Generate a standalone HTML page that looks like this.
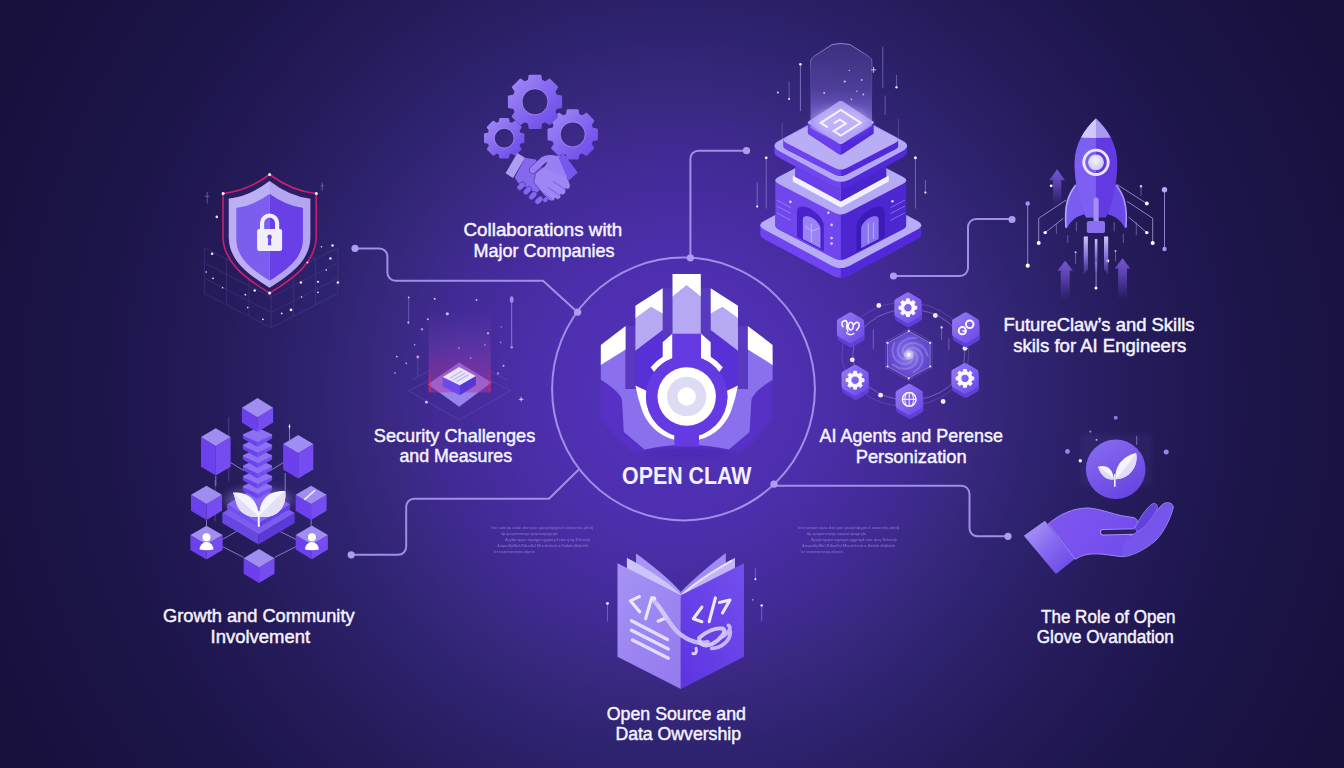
<!DOCTYPE html>
<html><head><meta charset="utf-8"><title>Open Claw</title>
<style>
html,body{margin:0;padding:0;background:#18113e;}
body{width:1344px;height:768px;overflow:hidden;font-family:"Liberation Sans",sans-serif;}
svg{display:block}
.lbl{font-family:"Liberation Sans",sans-serif;font-size:17.8px;fill:#f5f3ff;stroke:#f5f3ff;stroke-width:.45px;paint-order:stroke;}
.ttl{font-family:"Liberation Sans",sans-serif;font-size:24px;font-weight:700;fill:#f3f0ff;}
.ln{fill:none;stroke:#a08ee9;stroke-width:2;stroke-linecap:round;stroke-linejoin:round}
.nd{fill:#ad9cf0}
.wf{fill:none;stroke:#6a5bb8;stroke-width:.8;opacity:.3}
.sp{fill:#fff}
</style></head><body>
<svg width="1344" height="768" viewBox="0 0 1344 768">
<defs>
<radialGradient id="bg" gradientUnits="userSpaceOnUse" cx="676" cy="392" r="800">
<stop offset="0" stop-color="#5333ba"/>
<stop offset=".15" stop-color="#4e2fb0"/>
<stop offset=".30" stop-color="#412a94"/>
<stop offset=".37" stop-color="#39287f"/>
<stop offset=".45" stop-color="#2e2370"/>
<stop offset=".58" stop-color="#251b5a"/>
<stop offset=".72" stop-color="#1c154a"/>
<stop offset=".9" stop-color="#18113f"/>
<stop offset="1" stop-color="#18113e"/>
</radialGradient>
<filter id="b1" x="-20%" y="-20%" width="140%" height="140%"><feGaussianBlur stdDeviation="1"/></filter>
<filter id="b2" x="-20%" y="-20%" width="140%" height="140%"><feGaussianBlur stdDeviation="2"/></filter>
<filter id="b4" x="-30%" y="-30%" width="160%" height="160%"><feGaussianBlur stdDeviation="4"/></filter>
<filter id="b8" x="-50%" y="-50%" width="200%" height="200%"><feGaussianBlur stdDeviation="8"/></filter>
<radialGradient id="gal" cx=".5" cy=".5" r=".55"><stop offset="0" stop-color="#cfc4fb"/><stop offset=".2" stop-color="#8a74e4"/><stop offset=".6" stop-color="#6a50d4"/><stop offset="1" stop-color="#5c44c6"/></radialGradient>
<linearGradient id="nodeg" x1="0" y1="0" x2="1" y2="1"><stop offset="0" stop-color="#9178f3"/><stop offset="1" stop-color="#6d4ce8"/></linearGradient>
<linearGradient id="bkL" x1="0" y1="0" x2=".6" y2="1"><stop offset="0" stop-color="#a793f5"/><stop offset="1" stop-color="#957df0"/></linearGradient>
<linearGradient id="bkR" x1="1" y1="0" x2=".2" y2="1"><stop offset="0" stop-color="#7350ee"/><stop offset="1" stop-color="#5f35e3"/></linearGradient>
<linearGradient id="holo" x1="0" y1="0" x2="0" y2="1">
<stop offset="0" stop-color="#8f7ce0" stop-opacity=".16"/>
<stop offset=".45" stop-color="#8a72e8" stop-opacity=".32"/>
<stop offset=".8" stop-color="#9d86f6" stop-opacity=".7"/>
<stop offset="1" stop-color="#b4a2fa" stop-opacity=".85"/>
</linearGradient>
<linearGradient id="holos" x1="0" y1="0" x2="0" y2="1">
<stop offset="0" stop-color="#b0a0ee" stop-opacity=".75"/>
<stop offset=".5" stop-color="#b0a0ee" stop-opacity=".15"/>
<stop offset="1" stop-color="#b0a0ee" stop-opacity="0"/>
</linearGradient>
<linearGradient id="colg" x1="0" y1="0" x2="0" y2="1">
<stop offset="0" stop-color="#7a4ab8" stop-opacity="0"/>
<stop offset=".35" stop-color="#7a44b4" stop-opacity=".28"/>
<stop offset=".7" stop-color="#9a3aa8" stop-opacity=".5"/>
<stop offset="1" stop-color="#a83aa4" stop-opacity=".5"/>
</linearGradient>
<linearGradient id="cole" x1="0" y1="0" x2="0" y2="1">
<stop offset="0" stop-color="#d81f5c" stop-opacity="0"/>
<stop offset="1" stop-color="#e0205a" stop-opacity=".75"/>
</linearGradient>
<linearGradient id="gearg" x1="0" y1="0" x2="1" y2="1">
<stop offset="0" stop-color="#a48df6"/><stop offset=".5" stop-color="#8567f1"/><stop offset="1" stop-color="#6846e6"/>
</linearGradient>
<linearGradient id="cuff" x1="0" y1="0" x2="1" y2="1"><stop offset="0" stop-color="#b0a0f6"/><stop offset=".5" stop-color="#8468f0"/><stop offset="1" stop-color="#6644e4"/></linearGradient>
<linearGradient id="glb" x1="0" y1="0" x2=".6" y2="1"><stop offset="0" stop-color="#8a6ef2"/><stop offset="1" stop-color="#6846e2"/></linearGradient>
<linearGradient id="hnd" x1="0" y1="0" x2="1" y2=".4"><stop offset="0" stop-color="#7f58f1"/><stop offset="1" stop-color="#7049ec"/></linearGradient>
<linearGradient id="arr" x1="0" y1="0" x2="0" y2="1">
<stop offset="0" stop-color="#7a5cd8" stop-opacity=".95"/><stop offset=".45" stop-color="#6a4cc8" stop-opacity=".7"/><stop offset="1" stop-color="#5a3cb8" stop-opacity="0"/>
</linearGradient>
<linearGradient id="flm" x1="0" y1="0" x2="0" y2="1">
<stop offset="0" stop-color="#cfc4fb"/><stop offset=".5" stop-color="#9a84f0" stop-opacity=".85"/><stop offset="1" stop-color="#7a5ce0" stop-opacity=".25"/>
</linearGradient>
<radialGradient id="win" cx=".45" cy=".4" r=".6"><stop offset="0" stop-color="#f4f2fc"/><stop offset="1" stop-color="#cfc9ee"/></radialGradient>

</defs>
<rect width="1344" height="768" fill="url(#bg)"/>

<g id="connectors">
<circle cx="683.5" cy="389" r="131.4" fill="none" stroke="#a08ee9" stroke-width="2"/>
<path class="ln" d="M355 248.4H379.4a8 8 0 0 1 8 8V272.7a8 8 0 0 0 8 8H543L577.6 312.2"/>
<path class="ln" d="M351.2 554.8H398.2a8 8 0 0 0 8 -8V506.7a8 8 0 0 1 8 -8H549L578.3 470"/>
<path class="ln" d="M690.4 257.8V158.7a8 8 0 0 1 8 -8H746.5"/>
<path class="ln" d="M893.5 276H960a8 8 0 0 0 8 -8V227a8 8 0 0 1 8 -8H1012"/>
<path class="ln" d="M774 485.8H961.5a8 8 0 0 1 8 8V528.3a8 8 0 0 0 8 8H1008"/>
<circle class="nd" cx="355" cy="248.4" r="3.6"/>
<circle class="nd" cx="577.6" cy="312.2" r="3.6"/>
<circle class="nd" cx="351.2" cy="554.8" r="3.6"/>
<circle class="nd" cx="690.4" cy="257.8" r="3.6"/>
<circle class="nd" cx="746.5" cy="150.7" r="3.6"/>
<circle class="nd" cx="893.5" cy="276" r="3.6"/>
<circle class="nd" cx="1012" cy="219.5" r="3.6"/>
<circle class="nd" cx="774" cy="484.2" r="3.6"/>
<circle class="nd" cx="1008" cy="536.3" r="3.6"/>
</g>
<g id="logo">
<polygon points="600.8 379.7 600.8 418.0 624.0 446.0 644.5 457.0 728.9 457.0 749.4 446.0 772.6 418.0 772.6 379.7" fill="#5a33cc" opacity=".75" filter="url(#b2)"/>
<ellipse cx="686.7" cy="453" rx="46" ry="5.5" fill="#4426a6" opacity=".55" filter="url(#b2)"/>
<path d="M600.8 360 L625.6 345 L747.8 345 L772.6 360 L772.6 379.7 Q753 392 751.4 400 L749.6 432 L728.9 449.6 Q686.7 440 644.5 449.6 L623.8 432 L622 400 Q620.4 392 600.8 379.7 Z" fill="#8b70ee"/>
<rect x="625.6" y="320" width="122.2" height="69" fill="#4f30b3"/>
<rect x="625.6" y="326.0" width="9.8" height="62.9" fill="#5939bf"/>
<rect x="738.0" y="326.0" width="9.8" height="62.9" fill="#5939bf"/>
<rect x="662.7" y="288.2" width="9.8" height="56.8" fill="#5939bf"/>
<rect x="700.9" y="288.2" width="9.8" height="56.8" fill="#5939bf"/>
<polygon points="600.8 344.9 625.6 326.0 625.6 349.4 600.8 365.0" fill="#ffffff"/>
<polygon points="772.6 344.9 747.8 326.0 747.8 349.4 772.6 365.0" fill="#ffffff"/>
<polygon points="635.4 350.7 662.7 329.9 662.7 393.0 646.5 390.8 635.4 385.6" fill="#5731d6"/>
<polygon points="635.4 317.5 651.0 307.1 662.7 313.0 662.7 329.9 635.4 350.7" fill="#b6a8f2"/>
<polygon points="635.4 305.8 662.7 288.2 662.7 313.4 651.0 307.1 635.4 317.9" fill="#ffffff"/>
<polygon points="738.0 350.7 710.7 329.9 710.7 393.0 726.9 390.8 738.0 385.6" fill="#5731d6"/>
<polygon points="738.0 317.5 722.4 307.1 710.7 313.0 710.7 329.9 738.0 350.7" fill="#b6a8f2"/>
<polygon points="738.0 305.8 710.7 288.2 710.7 313.4 722.4 307.1 738.0 317.9" fill="#ffffff"/>
<path d="M672.5 333.6 L662.7 342.3 L662.7 356.8 A46.4 46.4 0 0 0 650.6 367.3 L654.1 371.9 A40.8 40.8 0 0 1 672.5 358.2 Z" fill="#ffffff"/>
<path d="M635.4 385.6 Q637.5 397.0 641.0 407.1 A46.4 46.4 0 0 0 674.4 439.7 L674.4 435.4 A40.8 40.8 0 0 1 646.3 390.8 Z" fill="#ffffff"/>
<path d="M700.9 333.6 L710.7 342.3 L710.7 356.8 A46.4 46.4 0 0 1 722.8 367.3 L719.3 371.9 A40.8 40.8 0 0 0 700.9 358.2 Z" fill="#ffffff"/>
<path d="M738.0 385.6 Q735.9 397.0 732.4 407.1 A46.4 46.4 0 0 1 699.0 439.7 L699.0 435.4 A40.8 40.8 0 0 0 727.1 390.8 Z" fill="#ffffff"/>
<rect x="672.5" y="333.8" width="28.3" height="40" fill="#653ae3"/>
<circle cx="686.7" cy="396.5" r="40.8" fill="#653ae3"/>
<rect x="674.4" y="430" width="24.6" height="16.5" fill="#653ae3"/>
<polygon points="672.5 273.9 700.8 273.9 700.8 296.9 686.6 285.4 672.5 296.9" fill="#ffffff"/>
<polygon points="672.5 296.7 686.6 285.2 700.8 296.7 700.8 333.8 672.5 333.8" fill="#b6a8f2"/>
<circle cx="686.7" cy="396.5" r="29.2" fill="#fff"/>
<circle cx="686.7" cy="396.5" r="19.7" fill="#dedbf5"/>
<circle cx="686.7" cy="396.5" r="9.2" fill="#fff"/>
</g>
<g id="tinytext" fill="#8876cc" opacity=".8" font-family="Liberation Sans, sans-serif" font-size="4.3" font-weight="700">
<text x="491.5" y="528.6" textLength="101.5" lengthAdjust="spacingAndGlyphs">Imt samaa coac dzz qon quoynlpypn.k owwvnlc plndj</text>
<text x="501.0" y="534.6" textLength="57.0" lengthAdjust="spacingAndGlyphs">dp qunparvmnqo vpqnouqnqqrqlo</text>
<text x="505.0" y="540.6" textLength="85.0" lengthAdjust="spacingAndGlyphs">Ayytjnrqqvn ognqpn qggntyd ewe qnq Jlvbasly</text>
<text x="497.0" y="546.6" textLength="91.0" lengthAdjust="spacingAndGlyphs">AnqanflylBel-KibadlsI MtsnfsIanb a-lbidah dlabdah</text>
<text x="493.0" y="552.6" textLength="42.0" lengthAdjust="spacingAndGlyphs">'or osarearveaa alusts</text>
<text x="798.0" y="528.6" textLength="101.0" lengthAdjust="spacingAndGlyphs">Imt samaa coac dzz qon quoynlpypn.k owwvnlc plndj</text>
<text x="807.0" y="534.6" textLength="59.0" lengthAdjust="spacingAndGlyphs">dp qunparvmnqo vpqnouqnqqrqlo</text>
<text x="811.0" y="540.6" textLength="86.0" lengthAdjust="spacingAndGlyphs">Ayytjnrqqvn ognqpn qggntyd ewe qnq Jlvbasly</text>
<text x="802.0" y="546.6" textLength="93.0" lengthAdjust="spacingAndGlyphs">AnqanflylBel-KibadlsI MtsnfsIanb a-lbidah dlabdah</text>
<text x="800.0" y="552.6" textLength="43.0" lengthAdjust="spacingAndGlyphs">'or osarearveaa alusts</text>
</g>
<g id="shield">
<g class="wf">
<path d="M204.4 247.8 L271.1 281.9 L337.9 247.8 M204.4 247.8 L204.4 293.5 L271.1 327.6 L337.9 293.5"/>
<path d="M337.9 247.8 L337.9 293.5 M271.1 281.9 L271.1 327.6"/>
<path d="M226.6 259.2 L226.6 304.9 M293.4 270.5 L293.4 316.2"/>
<path d="M204.4 263.0 L271.1 297.1 L337.9 263.0"/>
<path d="M226.6 259.2 L293.4 225.1 M293.4 270.5 L226.6 236.4"/>
<path d="M248.9 270.5 L248.9 316.2 M315.6 259.2 L315.6 304.9"/>
<path d="M204.4 278.3 L271.1 312.4 L337.9 278.3"/>
<path d="M248.9 270.5 L315.6 236.4 M315.6 259.2 L248.9 225.1"/>
</g>
<path d="M269.6 174.5 Q246.8 191.3 223.0 193.5 L223.0 237.0 C223.5 262.2 244.9 278.0 269.6 293.1 C294.3 278.0 315.7 262.2 316.2 237.0 L316.2 193.5 Q292.4 191.3 269.6 174.5 Z" fill="#2a1d63" stroke="#c9206e" stroke-width="1.6" stroke-linejoin="round"/>
<path d="M269.6 181.1 Q249.6 196.5 228.8 198.7 L228.8 238.0 C229.3 260.4 248.0 274.3 269.6 287.7 C291.2 274.3 309.9 260.4 310.4 238.0 L310.4 198.7 Q289.6 196.5 269.6 181.1 Z" fill="#b3a5f0"/>
<path d="M269.6 194.0 Q253.3 205.8 236.4 208.0 L236.4 240.0 C236.9 258.3 252.0 269.6 269.6 280.6 C287.2 269.6 302.3 258.3 302.8 240.0 L302.8 208.0 Q285.9 205.8 269.6 194.0 Z" fill="#7b5df0"/>
<clipPath id="shR"><rect x="269.6" y="170" width="60" height="130"/></clipPath>
<path d="M269.6 194.0 Q253.3 205.8 236.4 208.0 L236.4 240.0 C236.9 258.3 252.0 269.6 269.6 280.6 C287.2 269.6 302.3 258.3 302.8 240.0 L302.8 208.0 Q285.9 205.8 269.6 194.0 Z" fill="#693fe8" clip-path="url(#shR)"/>
<clipPath id="shL"><rect x="200" y="170" width="69.6" height="130"/></clipPath>
<path d="M269.6 181.1 Q249.6 196.5 228.8 198.7 L228.8 238.0 C229.3 260.4 248.0 274.3 269.6 287.7 C291.2 274.3 309.9 260.4 310.4 238.0 L310.4 198.7 Q289.6 196.5 269.6 181.1 Z" fill="#c4b8f5" clip-path="url(#shL)" opacity=".55"/>
<path d="M269.6 194.0 Q253.3 205.8 236.4 208.0 L236.4 240.0 C236.9 258.3 252.0 269.6 269.6 280.6 C287.2 269.6 302.3 258.3 302.8 240.0 L302.8 208.0 Q285.9 205.8 269.6 194.0 Z" fill="#7b5df0" clip-path="url(#shL)"/>
<path d="M262.1 230 V223 a7.5 7.5 0 0 1 15 0 V230" fill="none" stroke="#f1effc" stroke-width="4.2"/>
<rect x="257.1" y="229.1" width="25" height="21.8" rx="2.2" fill="#f1effc"/>
<circle cx="269.6" cy="236.9" r="2.3" fill="#6a48e6"/><path d="M268.4 237 L267.9 245.3 H271.3 L270.8 237Z" fill="#6a48e6"/>
<circle cx="269.6" cy="174.5" r="1.5" fill="#fff"/>
<circle cx="223.1" cy="193.5" r="1.5" fill="#fff"/>
<circle cx="316.3" cy="193.5" r="1.5" fill="#fff"/>
<circle cx="269.6" cy="293.1" r="1.5" fill="#fff"/>
<circle class="sp" cx="216.8" cy="216.9" r="1.3" opacity=".9"/>
<circle class="sp" cx="212.1" cy="253.7" r="1.3" opacity=".9"/>
<circle class="sp" cx="254.7" cy="290.5" r="1.2" opacity=".9"/>
<circle class="sp" cx="291.0" cy="309.9" r="1.4" opacity=".9"/>
<circle class="sp" cx="300.9" cy="282.5" r="1.2" opacity=".9"/>
<circle class="sp" cx="318.0" cy="281.8" r="1.1" opacity=".9"/>
<circle class="sp" cx="332.5" cy="245.5" r="1.3" opacity=".9"/>
<circle class="sp" cx="330.4" cy="258.4" r="1.2" opacity=".9"/>
<circle class="sp" cx="337.9" cy="282.5" r="1.3" opacity=".9"/>
<circle class="sp" cx="307.4" cy="262.4" r="1.0" opacity=".9"/>
<circle class="sp" cx="262.9" cy="319.3" r="0.9" opacity=".9"/>
<circle class="sp" cx="245.4" cy="294.7" r="0.9" opacity=".9"/>
<circle class="sp" cx="213.0" cy="278.3" r="0.9" opacity=".9"/>
<circle class="sp" cx="281.7" cy="313.4" r="0.9" opacity=".9"/>
<circle class="sp" cx="206.2" cy="272.0" r="0.8" opacity=".9"/>
<circle class="sp" cx="318.0" cy="292.3" r="0.9" opacity=".9"/>
<circle class="sp" cx="222.6" cy="287.7" r="0.8" opacity=".9"/>
<circle class="sp" cx="326.2" cy="270.1" r="0.8" opacity=".9"/>
<circle class="sp" cx="301.6" cy="297.0" r="0.8" opacity=".9"/>
<circle class="sp" cx="247.7" cy="307.6" r="0.8" opacity=".9"/>
<circle class="sp" cx="321.5" cy="246.7" r="0.8" opacity=".9"/>
<path d="M322.2 182.6 V190.9 M320.6 185.8 H323.8" stroke="#d9d2fa" stroke-width=".6" opacity=".55"/>
<path d="M207.2 191.8 V203.5 M204.9 196.3 H209.4" stroke="#d9d2fa" stroke-width=".6" opacity=".55"/>
</g>
<g id="chip">
<path class="wf" style="opacity:.5" d="M408.7 390.7 L459.2 419.9 L510.7 390.7"/>
<path class="wf" style="opacity:.5" d="M412.3 379.8 L429.6 370.7 M507.1 379.8 L489.8 370.7"/>
<path class="wf" style="opacity:.5" d="M408.7 390.7 L428.7 380.7 M510.7 390.7 L490.7 380.7"/>
<polygon points="459.2 362.5 491.6 382.5 459.2 406.8 427.8 384.3" fill="#9d89f1" opacity=".95"/>
<rect x="428.7" y="310.5" width="62.0" height="82.0" fill="url(#colg)"/>
<rect x="428.7" y="366.1" width="2.2" height="25.5" fill="url(#cole)"/>
<rect x="488.5" y="366.1" width="2.2" height="25.5" fill="url(#cole)"/>
<polygon points="442.8 377.1 459.7 385.3 459.7 395.3 442.8 386.2" fill="#6b49ea"/>
<polygon points="459.7 385.3 475.8 376.1 475.8 385.3 459.7 395.3" fill="#5836d6"/>
<polygon points="459.2 367.0 475.8 376.1 459.7 385.3 442.8 377.1" fill="#e9e5fb"/>
<path d="M449.8 378.3 L462.1 371.0" stroke="#b9adf2" stroke-width="1.3" opacity=".8"/>
<path d="M453.2 380.0 L465.5 372.8" stroke="#b9adf2" stroke-width="1.3" opacity=".8"/>
<path d="M456.6 381.6 L468.8 374.6" stroke="#b9adf2" stroke-width="1.3" opacity=".8"/>
<path d="M408.7 297.4 V324.2" stroke="#8f7fd8" stroke-width=".8" opacity=".7"/>
<path d="M511.7 299.6 V347.3" stroke="#9584e0" stroke-width="1" opacity=".8"/>
<ellipse cx="511.7" cy="299.6" rx="1.9" ry="3.4" fill="#9c86ea"/>
<circle cx="511.7" cy="347.3" r="1.4" fill="#9c86ea"/>
<path d="M417.8 357.0 V376.1" stroke="#7f6fcf" stroke-width=".7" opacity=".5"/>
<circle cx="408.7" cy="297.4" r="0.9" fill="#d9d2fa" opacity=".9"/>
<circle cx="434.7" cy="298.7" r="1.0" fill="#e6e0c8" opacity=".9"/>
<circle cx="476.5" cy="299.9" r="0.9" fill="#e6e0c8" opacity=".9"/>
<circle cx="447.3" cy="313.8" r="1.6" fill="#d9c8f8" opacity=".9"/>
<circle cx="427.8" cy="319.3" r="1.0" fill="#d8d4b8" opacity=".9"/>
<circle cx="408.3" cy="322.4" r="1.0" fill="#e0d8f8" opacity=".9"/>
<circle cx="422.0" cy="329.3" r="1.2" fill="#e080d0" opacity=".9"/>
<circle cx="414.7" cy="344.8" r="0.8" fill="#c9c0e8" opacity=".9"/>
<circle cx="417.8" cy="357.0" r="1.4" fill="#e8a0e0" opacity=".9"/>
<circle cx="396.8" cy="356.6" r="0.9" fill="#d8d4c0" opacity=".9"/>
<circle cx="406.3" cy="363.4" r="0.8" fill="#d8d4c0" opacity=".9"/>
<circle cx="488.0" cy="333.3" r="1.0" fill="#e8e4d8" opacity=".9"/>
<circle cx="501.3" cy="326.9" r="0.9" fill="#8f7fd8" opacity=".9"/>
<circle cx="500.7" cy="342.4" r="0.9" fill="#9a8ae0" opacity=".9"/>
<circle cx="503.5" cy="365.8" r="1.0" fill="#cfc8f0" opacity=".9"/>
<circle cx="484.9" cy="344.8" r="0.9" fill="#a090e0" opacity=".9"/>
<circle cx="470.6" cy="357.9" r="0.9" fill="#a898f0" opacity=".9"/>
<circle cx="458.8" cy="347.9" r="0.9" fill="#a898f0" opacity=".9"/>
<circle cx="426.4" cy="402.2" r="1.4" fill="#d9d2fa" opacity=".9"/>
<circle cx="498.0" cy="373.4" r="1.1" fill="#b0a0e8" opacity=".9"/>
<circle cx="395.0" cy="373.0" r="0.8" fill="#cfc8f0" opacity=".9"/>
<path d="M518.1 399.3 L521.1 398.6 L524.1 399.3 L521.1 400.0 Z M521.1 396.3 L521.8 399.3 L521.1 402.3 L520.4 399.3 Z" fill="#e8e4d8"/>
</g>
<g id="growth">
<path d="M228.8 417V481 M215.1 480V521.5" stroke="#8f7fd8" stroke-width=".8" opacity=".45"/>
<path d="M289.4 424.5V440" stroke="#c9c0f0" stroke-width=".8" opacity=".8"/>
<path d="M289.4 423.6L290 426.5L289.4 429.4L288.8 426.5Z M287.6 426.5L289.4 426L291.2 426.5L289.4 427Z" fill="#fff"/>
<path d="M215.8 476V486 M285.2 473V490 M206.5 520V526 M311.1 519.4V525.5" stroke="#b5a6ea" stroke-width=".9" opacity=".75" fill="none"/>
<ellipse cx="258.5" cy="500" rx="34" ry="12" fill="#b9a8ff" opacity=".35" filter="url(#b4)"/>
<path d="M224.9 459L243.8 470.7 M291.3 457.7L271.1 470.1" stroke="#b5a6ea" stroke-width=".9" opacity=".75" fill="none"/>
<path d="M222.5 539.4L243.7 527.3 M222.5 546.6L243.7 557.4 M296 539.4L280.3 531.6 M296 546.6L274.5 557.4" stroke="#b5a6ea" stroke-width=".9" opacity=".75" fill="none"/>
<polygon points="201.0 437.1 215.8 446.0 215.8 475.6 201.0 466.7" fill="#6c40ec"/>
<polygon points="230.6 437.1 215.8 446.0 215.8 475.6 230.6 466.7" fill="#754cef"/>
<polygon points="215.8 428.2 230.6 437.1 215.8 446.0 201.0 437.1" fill="#a08df2"/>
<polygon points="283.1 444.0 298.2 453.1 298.2 478.5 283.1 469.4" fill="#6c40ec"/>
<polygon points="313.3 444.0 298.2 453.1 298.2 478.5 313.3 469.4" fill="#754cef"/>
<polygon points="298.2 434.9 313.3 444.0 298.2 453.1 283.1 444.0" fill="#a08df2"/>
<polygon points="222.3 512.9 258.5 534.4 258.5 544.4 222.3 522.9" fill="#6846e2"/>
<polygon points="294.7 512.9 258.5 534.4 258.5 544.4 294.7 522.9" fill="#5b39d6"/>
<polygon points="258.5 491.4 294.7 512.9 258.5 534.4 222.3 512.9" fill="#7b5cf0"/>
<polygon points="227.0 504.2 258.5 522.9 258.5 527.4 227.0 508.7" fill="#7350ea"/>
<polygon points="290.0 504.2 258.5 522.9 258.5 527.4 290.0 508.7" fill="#6440e2"/>
<polygon points="258.5 485.5 290.0 504.2 258.5 522.9 227.0 504.2" fill="#8467f2"/>
<path d="M243.7 485.6 L257.5 493.8 Q257.5 493.8 257.5 493.8 L257.5 498.8 L243.7 490.8 Q241.7 489.1 243.7 485.6 Z" fill="#6c40ec"/>
<path d="M271.3 485.6 L257.5 493.8 L257.5 498.8 L271.3 490.8 Q273.3 489.1 271.3 485.6 Z" fill="#754cef"/>
<path d="M257.5 479.4 L270.9 485.5 Q273.3 486.6 270.9 487.7 L257.5 493.8 L244.1 487.7 Q241.7 486.6 244.1 485.5 Z" fill="#8b72f2"/>
<path d="M243.7 475.6 L257.5 483.8 Q257.5 483.8 257.5 483.8 L257.5 488.8 L243.7 480.8 Q241.7 479.1 243.7 475.6 Z" fill="#6c40ec"/>
<path d="M271.3 475.6 L257.5 483.8 L257.5 488.8 L271.3 480.8 Q273.3 479.1 271.3 475.6 Z" fill="#754cef"/>
<path d="M257.5 469.4 L270.9 475.5 Q273.3 476.6 270.9 477.7 L257.5 483.8 L244.1 477.7 Q241.7 476.6 244.1 475.5 Z" fill="#8b72f2"/>
<path d="M243.7 465.2 L257.5 473.4 Q257.5 473.4 257.5 473.4 L257.5 478.4 L243.7 470.4 Q241.7 468.7 243.7 465.2 Z" fill="#6c40ec"/>
<path d="M271.3 465.2 L257.5 473.4 L257.5 478.4 L271.3 470.4 Q273.3 468.7 271.3 465.2 Z" fill="#754cef"/>
<path d="M257.5 459.0 L270.9 465.1 Q273.3 466.2 270.9 467.3 L257.5 473.4 L244.1 467.3 Q241.7 466.2 244.1 465.1 Z" fill="#8b72f2"/>
<path d="M243.7 454.8 L257.5 463.0 Q257.5 463.0 257.5 463.0 L257.5 468.0 L243.7 460.0 Q241.7 458.3 243.7 454.8 Z" fill="#6c40ec"/>
<path d="M271.3 454.8 L257.5 463.0 L257.5 468.0 L271.3 460.0 Q273.3 458.3 271.3 454.8 Z" fill="#754cef"/>
<path d="M257.5 448.6 L270.9 454.7 Q273.3 455.8 270.9 456.9 L257.5 463.0 L244.1 456.9 Q241.7 455.8 244.1 454.7 Z" fill="#8b72f2"/>
<path d="M243.7 444.3 L257.5 452.5 Q257.5 452.5 257.5 452.5 L257.5 457.5 L243.7 449.5 Q241.7 447.8 243.7 444.3 Z" fill="#6c40ec"/>
<path d="M271.3 444.3 L257.5 452.5 L257.5 457.5 L271.3 449.5 Q273.3 447.8 271.3 444.3 Z" fill="#754cef"/>
<path d="M257.5 438.1 L270.9 444.2 Q273.3 445.3 270.9 446.4 L257.5 452.5 L244.1 446.4 Q241.7 445.3 244.1 444.2 Z" fill="#8b72f2"/>
<path d="M243.7 433.9 L257.5 442.1 Q257.5 442.1 257.5 442.1 L257.5 447.1 L243.7 439.1 Q241.7 437.4 243.7 433.9 Z" fill="#6c40ec"/>
<path d="M271.3 433.9 L257.5 442.1 L257.5 447.1 L271.3 439.1 Q273.3 437.4 271.3 433.9 Z" fill="#754cef"/>
<path d="M257.5 427.7 L270.9 433.8 Q273.3 434.9 270.9 436.0 L257.5 442.1 L244.1 436.0 Q241.7 434.9 244.1 433.8 Z" fill="#8b72f2"/>
<polygon points="241.9 407.7 257.5 417.3 257.5 432.1 241.9 422.5" fill="#6c40ec"/>
<polygon points="273.1 407.7 257.5 417.3 257.5 432.1 273.1 422.5" fill="#754cef"/>
<polygon points="257.5 398.1 273.1 407.7 257.5 417.3 241.9 407.7" fill="#a08df2"/>
<polygon points="191.0 494.8 206.5 503.9 206.5 519.9 191.0 510.8" fill="#6c40ec"/>
<polygon points="222.0 494.8 206.5 503.9 206.5 519.9 222.0 510.8" fill="#754cef"/>
<polygon points="206.5 485.7 222.0 494.8 206.5 503.9 191.0 494.8" fill="#a08df2"/>
<polygon points="295.6 494.8 311.1 503.9 311.1 519.9 295.6 510.8" fill="#6c40ec"/>
<polygon points="326.6 494.8 311.1 503.9 311.1 519.9 326.6 510.8" fill="#754cef"/>
<polygon points="311.1 485.7 326.6 494.8 311.1 503.9 295.6 494.8" fill="#a08df2"/>
<path d="M304.6 499.3L314.7 490.7" stroke="#fff" stroke-width="1.7" stroke-linecap="round" opacity=".8"/>
<polygon points="190.4 535.1 206.5 544.4 206.5 559.4 190.4 550.1" fill="#6c40ec"/>
<polygon points="222.6 535.1 206.5 544.4 206.5 559.4 222.6 550.1" fill="#754cef"/>
<polygon points="206.5 525.8 222.6 535.1 206.5 544.4 190.4 535.1" fill="#a08df2"/>
<polygon points="295.7 535.0 311.8 544.6 311.8 559.2 295.7 549.6" fill="#6c40ec"/>
<polygon points="327.9 535.0 311.8 544.6 311.8 559.2 327.9 549.6" fill="#754cef"/>
<polygon points="311.8 525.4 327.9 535.0 311.8 544.6 295.7 535.0" fill="#a08df2"/>
<circle cx="206.5" cy="537.2" r="4" fill="#fff"/>
<path d="M199.6 549.5 a6.9 7.4 0 0 1 13.8 0 q-6.9 1.6 -13.8 0Z" fill="#fff"/>
<circle cx="311.9" cy="537.2" r="4" fill="#fff"/>
<path d="M305.0 549.5 a6.9 7.4 0 0 1 13.8 0 q-6.9 1.6 -13.8 0Z" fill="#fff"/>
<polygon points="243.7 558.2 259.1 567.4 259.1 583.0 243.7 573.8" fill="#6c40ec"/>
<polygon points="274.5 558.2 259.1 567.4 259.1 583.0 274.5 573.8" fill="#754cef"/>
<polygon points="259.1 549.0 274.5 558.2 259.1 567.4 243.7 558.2" fill="#a08df2"/>
<path d="M258.5 516.5 C252 518.5 241 515 237 505 C235 499 234 495 233 492.6 C240 492 249 494 254 501 C257.5 506 258.5 511 258.5 516.5Z" fill="#f6f4fd"/>
<path d="M258.5 516.5 C252 518.5 241 515 237 505 C235 499 234 495 233 492.6 C240 500 250 508 258.5 516.5Z" fill="#e2dff6"/>
<path d="M259.2 516.5 C259 509 261 502 266 497 C271.5 491.5 279 491 285.3 490.7 C286 497 285 505 279.5 511 C274 517 265 518 259.2 516.5Z" fill="#f6f4fd"/>
<path d="M259.2 516.5 C266 508 276 498 285.3 490.7 C286 497 285 505 279.5 511 C274 517 265 518 259.2 516.5Z" fill="#e4e1f7"/>
<path d="M258.8 512V526" stroke="#f6f4fd" stroke-width="2" stroke-linecap="round"/>
</g>
<g id="gears">
<path d="M499.7 122.9 L500.3 119.1 L508.1 119.1 L508.7 122.9 A16.0 16.0 0 0 1 511.8 124.1 L515.0 121.9 L520.5 127.4 L518.3 130.6 A16.0 16.0 0 0 1 519.5 133.7 L523.3 134.3 L523.3 142.1 L519.5 142.7 A16.0 16.0 0 0 1 518.3 145.8 L520.5 149.0 L515.0 154.5 L511.8 152.3 A16.0 16.0 0 0 1 508.7 153.5 L508.1 157.3 L500.3 157.3 L499.7 153.5 A16.0 16.0 0 0 1 496.6 152.3 L493.4 154.5 L487.9 149.0 L490.1 145.8 A16.0 16.0 0 0 1 488.9 142.7 L485.1 142.1 L485.1 134.3 L488.9 133.7 A16.0 16.0 0 0 1 490.1 130.6 L487.9 127.4 L493.4 121.9 L496.6 124.1 A16.0 16.0 0 0 1 499.7 122.9 Z M493.5 138.2 a10.7 10.7 0 1 0 21.4 0 a10.7 10.7 0 1 0 -21.4 0Z" fill="url(#gearg)" fill-rule="evenodd" stroke="url(#gearg)" stroke-width="2.2" stroke-linejoin="round"/><circle cx="504.2" cy="138.2" r="9.9" fill="none" stroke="#c0b2f6" stroke-width="1" opacity=".45"/>
<path d="M567.0 115.0 L567.8 110.3 L577.6 110.3 L578.4 115.0 A20.2 20.2 0 0 1 582.3 116.6 L586.3 113.9 L593.2 120.8 L590.5 124.8 A20.2 20.2 0 0 1 592.1 128.7 L596.8 129.5 L596.8 139.3 L592.1 140.1 A20.2 20.2 0 0 1 590.5 144.0 L593.2 148.0 L586.3 154.9 L582.3 152.2 A20.2 20.2 0 0 1 578.4 153.8 L577.6 158.5 L567.8 158.5 L567.0 153.8 A20.2 20.2 0 0 1 563.1 152.2 L559.1 154.9 L552.2 148.0 L554.9 144.0 A20.2 20.2 0 0 1 553.3 140.1 L548.6 139.3 L548.6 129.5 L553.3 128.7 A20.2 20.2 0 0 1 554.9 124.8 L552.2 120.8 L559.1 113.9 L563.1 116.6 A20.2 20.2 0 0 1 567.0 115.0 Z M559.4 134.4 a13.3 13.3 0 1 0 26.6 0 a13.3 13.3 0 1 0 -26.6 0Z" fill="url(#gearg)" fill-rule="evenodd" stroke="url(#gearg)" stroke-width="2.2" stroke-linejoin="round"/><circle cx="572.7" cy="134.4" r="12.5" fill="none" stroke="#c0b2f6" stroke-width="1" opacity=".45"/>
<path d="M528.8 80.9 L529.7 75.8 L540.3 75.8 L541.2 80.9 A21.8 21.8 0 0 1 545.4 82.6 L549.6 79.7 L557.1 87.2 L554.2 91.4 A21.8 21.8 0 0 1 555.9 95.6 L561.0 96.5 L561.0 107.1 L555.9 108.0 A21.8 21.8 0 0 1 554.2 112.2 L557.1 116.4 L549.6 123.9 L545.4 121.0 A21.8 21.8 0 0 1 541.2 122.7 L540.3 127.8 L529.7 127.8 L528.8 122.7 A21.8 21.8 0 0 1 524.6 121.0 L520.4 123.9 L512.9 116.4 L515.8 112.2 A21.8 21.8 0 0 1 514.1 108.0 L509.0 107.1 L509.0 96.5 L514.1 95.6 A21.8 21.8 0 0 1 515.8 91.4 L512.9 87.2 L520.4 79.7 L524.6 82.6 A21.8 21.8 0 0 1 528.8 80.9 Z M521.2 101.8 a13.8 13.8 0 1 0 27.6 0 a13.8 13.8 0 1 0 -27.6 0Z" fill="url(#gearg)" fill-rule="evenodd" stroke="url(#gearg)" stroke-width="2.2" stroke-linejoin="round"/><circle cx="535.0" cy="101.8" r="13.0" fill="none" stroke="#c0b2f6" stroke-width="1" opacity=".45"/>
<g transform="translate(500 145) scale(0.08467)">
<polygon points="690,150 750,100 915,325 810,420" fill="#7658ee"/>
<polygon points="295,150 420,172 600,400 430,570 215,450 175,385" fill="#8668f0"/>
<polygon points="205,95 295,150 155,390 65,335" fill="#ad9df3"/>
<rect x="194" y="452" width="112" height="66" rx="33" transform="rotate(-45 250 485)" fill="#8668f0" stroke="#3b2a86" stroke-width="7"/>
<rect x="266" y="507" width="112" height="66" rx="33" transform="rotate(-45 322 540)" fill="#8668f0" stroke="#3b2a86" stroke-width="7"/>
<rect x="332" y="565" width="112" height="66" rx="33" transform="rotate(-45 388 598)" fill="#8668f0" stroke="#3b2a86" stroke-width="7"/>
<rect x="404" y="619" width="112" height="66" rx="33" transform="rotate(-45 460 652)" fill="#8668f0" stroke="#3b2a86" stroke-width="7"/>
<rect x="505" y="620" width="70" height="46" rx="20" transform="rotate(-45 540 643)" fill="#8668f0"/>
<path d="M420 335 L545 235 L690 150 L810 420 L828 470 Q835 520 790 522 L772 512 Q790 575 740 590 L715 580 Q730 635 680 645 L650 625 Q640 670 590 655 L520 590 L400 440 Z" fill="#9d87f5" stroke="#3b2a86" stroke-width="6" stroke-linejoin="round"/>
<path d="M630 432 L765 522 M565 500 L700 592 M505 565 L610 640" stroke="#6f50e4" stroke-width="9" stroke-linecap="round"/>
<path d="M388 292 L520 172 Q560 150 620 160" fill="none" stroke="#3b2a86" stroke-width="90" stroke-linecap="round" stroke-linejoin="round"/>
<path d="M388 292 L520 172 Q560 150 620 160 L720 175" fill="none" stroke="#9880f4" stroke-width="78" stroke-linecap="round" stroke-linejoin="round"/>
<polygon points="530,255 600,120 700,140 800,380 560,300" fill="#9880f4"/>
<polygon points="690,150 750,100 915,325 810,420" fill="#7658ee"/>
</g>
</g>
<g id="building">
<path d="M800.4 64.3V111.2" stroke="#a898ea" stroke-width=".9" opacity="0.70"/>
<path d="M789.1 81.9V99.4" stroke="#a898ea" stroke-width=".9" opacity="0.50"/>
<path d="M882.8 46.7V87.7" stroke="#a898ea" stroke-width=".9" opacity="0.55"/>
<path d="M896.5 75.0V87.7" stroke="#a898ea" stroke-width=".9" opacity="0.50"/>
<path d="M885.1 95.5V115.1" stroke="#a898ea" stroke-width=".9" opacity="0.50"/>
<path d="M782.2 122.9V156.1" stroke="#a898ea" stroke-width=".9" opacity="0.30"/>
<path d="M898.4 119.0V152.2" stroke="#a898ea" stroke-width=".9" opacity="0.30"/>
<path d="M766.2 157.8V208.6" stroke="#a898ea" stroke-width=".9" opacity="0.60"/>
<path d="M915.4 157.8V208.6" stroke="#a898ea" stroke-width=".9" opacity="0.60"/>
<path d="M757.2 182.2V206.6" stroke="#a898ea" stroke-width=".9" opacity="0.60"/>
<path d="M925.4 180.3V192.6" stroke="#a898ea" stroke-width=".9" opacity="0.60"/>
<circle class="sp" cx="800.4" cy="64.3" r="1.4" opacity=".85"/>
<circle class="sp" cx="789.1" cy="99.0" r="1.1" opacity=".85"/>
<circle class="sp" cx="777.9" cy="92.6" r="1.0" opacity=".85"/>
<circle class="sp" cx="896.5" cy="87.3" r="1.2" opacity=".85"/>
<circle class="sp" cx="844.7" cy="81.5" r="1.1" opacity=".85"/>
<circle class="sp" cx="824.2" cy="93.0" r="1.0" opacity=".85"/>
<circle class="sp" cx="861.7" cy="79.9" r="0.9" opacity=".85"/>
<circle class="sp" cx="863.3" cy="94.6" r="1.0" opacity=".85"/>
<circle class="sp" cx="857.0" cy="91.2" r="0.8" opacity=".85"/>
<circle class="sp" cx="851.5" cy="99.4" r="0.8" opacity=".85"/>
<circle class="sp" cx="849.2" cy="70.5" r="0.7" opacity=".85"/>
<circle class="sp" cx="766.2" cy="157.8" r="1.4" opacity=".9"/>
<circle class="sp" cx="915.4" cy="157.8" r="1.5" opacity=".9"/>
<circle class="sp" cx="757.2" cy="206.6" r="1.1" opacity=".9"/>
<circle class="sp" cx="925.4" cy="192.6" r="1.1" opacity=".9"/>
<path d="M873.6 66.8V72.8M871.1 69.8H876.1" stroke="#e6e0fb" stroke-width=".8"/>
<g>
<polygon points="760.3,225.2 760.8,223.7 762.2,222.2 764.6,220.7 832.3,184.5 835.1,183.3 838.0,182.5 840.8,182.3 843.6,182.5 846.5,183.3 849.3,184.5 917.0,220.7 919.4,222.2 920.8,223.7 921.3,225.2 921.3,234.8 920.8,236.3 919.4,237.8 917.0,239.3 849.3,275.5 846.5,276.7 843.6,277.5 840.8,277.7 838.0,277.5 835.1,276.7 832.3,275.5 764.6,239.3 762.2,237.8 760.8,236.3 760.3,234.8" fill="#5129da" />
<polygon points="760.3,225.2 760.8,223.7 762.2,222.2 764.6,220.7 832.3,184.5 835.1,183.3 838.0,182.5 840.8,182.3 840.8,182.3 840.8,277.7 840.8,277.7 838.0,277.5 835.1,276.7 832.3,275.5 764.6,239.3 762.2,237.8 760.8,236.3 760.3,234.8" fill="#7044f0" />
<polygon points="832.3,184.5 835.2,183.3 838.0,182.5 840.8,182.3 843.6,182.5 846.4,183.3 849.3,184.5 917.0,220.7 919.4,222.2 920.8,223.7 921.3,225.2 920.8,226.7 919.4,228.2 917.0,229.7 849.3,265.9 846.4,267.1 843.6,267.9 840.8,268.1 838.0,267.9 835.2,267.1 832.3,265.9 764.6,229.7 762.2,228.2 760.8,226.7 760.3,225.2 760.8,223.7 762.2,222.2 764.6,220.7" fill="#b7acf5" />
</g>
<g>
<polygon points="775.4,180.3 775.8,179.1 777.0,177.9 778.9,176.7 833.9,148.0 836.2,147.0 838.5,146.4 840.8,146.2 843.1,146.4 845.4,147.0 847.7,148.0 902.7,176.7 904.6,177.9 905.8,179.1 906.2,180.3 906.2,225.8 905.8,227.0 904.6,228.2 902.7,229.4 847.7,258.1 845.4,259.1 843.1,259.7 840.8,259.9 838.5,259.7 836.2,259.1 833.9,258.1 778.9,229.4 777.0,228.2 775.8,227.0 775.4,225.8" fill="#4c26d0" />
<polygon points="775.4,180.3 775.8,179.1 777.0,177.9 778.9,176.7 833.9,148.0 836.2,147.0 838.5,146.4 840.8,146.2 840.8,146.2 840.8,259.9 840.8,259.9 838.5,259.7 836.2,259.1 833.9,258.1 778.9,229.4 777.0,228.2 775.8,227.0 775.4,225.8" fill="#7046ee" />
<polygon points="833.9,148.0 836.2,147.0 838.5,146.4 840.8,146.2 843.1,146.4 845.4,147.0 847.7,148.0 902.7,176.7 904.6,177.9 905.8,179.1 906.2,180.3 905.8,181.5 904.6,182.7 902.7,183.9 847.7,212.6 845.4,213.6 843.1,214.2 840.8,214.4 838.5,214.2 836.2,213.6 833.9,212.6 778.9,183.9 777.0,182.7 775.8,181.5 775.4,180.3 775.8,179.1 777.0,177.9 778.9,176.7" fill="#b5aaf5" />
</g>
<polygon points="797.0,237.2 797.0,211.2 797.6,208.6 799.5,206.9 802.5,206.4 806.2,207.0 810.4,208.7 814.5,211.4 818.3,214.7 821.2,218.4 823.1,222.0 823.8,225.3 823.8,251.3" fill="#4a22cc" />
<polygon points="802.9,238.9 802.9,219.2 803.3,217.5 804.6,216.4 806.5,216.1 809.0,216.5 811.7,217.6 814.4,219.3 816.9,221.5 818.8,223.9 820.1,226.4 820.5,228.5 820.5,248.2" fill="#9a84f5" />
<polygon points="856.5,251.9 856.5,226.5 857.2,223.0 859.2,219.2 862.3,215.3 866.2,211.8 870.6,209.1 874.9,207.3 878.8,206.6 881.9,207.2 883.9,209.0 884.6,211.7 884.6,237.2" fill="#3b1bb6" />
<polygon points="861.1,248.2 861.1,228.5 861.5,226.4 862.8,223.9 864.7,221.5 867.2,219.3 869.9,217.6 872.6,216.5 875.1,216.1 877.0,216.4 878.3,217.5 878.7,219.2 878.7,238.9" fill="#8a72f0" />
<path d="M811.4 224.2L811.4 242.4 M804.8 225.8L811.4 231.1 M811.4 231.1L818.6 228.5" stroke="#d9d0fb" stroke-width=".8" opacity=".8"/>
<path d="M868.3 223.0L868.3 243.5 M873.5 222.5L873.5 238.5" stroke="#c9bcf8" stroke-width="1.2" opacity=".7"/>
<path d="M776.7 200.1L791.1 207.7" stroke="#b5a6f4" stroke-width=".9" opacity=".6"/>
<path d="M776.7 206.0L791.1 213.6" stroke="#b5a6f4" stroke-width=".9" opacity=".6"/>
<path d="M776.7 212.8L791.1 220.4" stroke="#b5a6f4" stroke-width=".9" opacity=".6"/>
<path d="M890.5 207.7L904.9 200.1" stroke="#b5a6f4" stroke-width=".9" opacity=".6"/>
<path d="M890.5 213.6L904.9 206.0" stroke="#b5a6f4" stroke-width=".9" opacity=".6"/>
<path d="M890.5 220.4L904.9 212.8" stroke="#b5a6f4" stroke-width=".9" opacity=".6"/>
<circle cx="790.4" cy="201.9" r="1.3" fill="#e6e0fb" opacity=".9"/>
<circle cx="892.5" cy="201.2" r="1.3" fill="#e6e0fb" opacity=".9"/>
<circle cx="831.6" cy="224.9" r="1.3" fill="#e6e0fb" opacity=".9"/>
<circle cx="831.6" cy="238.1" r="1.3" fill="#e6e0fb" opacity=".9"/>
<circle cx="831.6" cy="243.6" r="1.3" fill="#e6e0fb" opacity=".9"/>
<circle cx="828.4" cy="212.7" r="1.3" fill="#e6e0fb" opacity=".9"/>
<polygon points="792.8,175.6 840.8,201.4 888.8,175.6 888.8,181.6 840.8,207.4 792.8,181.6" fill="#f4f1fe" />
<polygon points="795.1,150.0 795.1,176.8 840.8,201.5 840.8,160.0" fill="#6a40ea" />
<polygon points="886.3,150.0 886.3,176.8 840.8,201.5 840.8,160.0" fill="#4a24cc" />
<g>
<polygon points="774.5,145.8 775.0,144.0 776.7,142.2 779.5,140.4 830.8,112.5 834.1,111.0 837.5,110.1 840.8,109.8 844.1,110.1 847.5,111.0 850.8,112.5 902.1,140.4 904.9,142.2 906.5,144.0 907.1,145.8 907.1,152.4 906.5,154.2 904.9,156.0 902.1,157.8 850.8,185.7 847.5,187.2 844.1,188.1 840.8,188.4 837.5,188.1 834.1,187.2 830.8,185.7 779.5,157.8 776.7,156.0 775.0,154.2 774.5,152.4" fill="#5129da" />
<polygon points="774.5,145.8 775.0,144.0 776.7,142.2 779.5,140.4 830.8,112.5 834.1,111.0 837.5,110.1 840.8,109.8 840.8,109.8 840.8,188.4 840.8,188.4 837.5,188.1 834.1,187.2 830.8,185.7 779.5,157.8 776.7,156.0 775.0,154.2 774.5,152.4" fill="#7046ee" />
<polygon points="830.8,112.5 834.1,111.0 837.5,110.1 840.8,109.8 844.1,110.1 847.5,111.0 850.8,112.5 902.1,140.4 904.9,142.2 906.6,144.0 907.1,145.8 906.6,147.6 904.9,149.4 902.1,151.2 850.8,179.1 847.5,180.6 844.1,181.5 840.8,181.8 837.5,181.5 834.1,180.6 830.8,179.1 779.5,151.2 776.7,149.4 775.0,147.6 774.5,145.8 775.0,144.0 776.7,142.2 779.5,140.4" fill="#b3a8f5" />
</g>
<g>
<polygon points="783.5,139.9 783.9,138.9 784.9,137.8 786.5,136.8 834.8,111.8 836.8,111.0 838.8,110.4 840.8,110.3 842.8,110.4 844.8,111.0 846.8,111.8 895.1,136.8 896.8,137.8 897.8,138.9 898.1,139.9 898.1,146.4 897.8,147.4 896.7,148.5 895.1,149.5 846.8,174.5 844.8,175.3 842.8,175.9 840.8,176.0 838.8,175.9 836.8,175.3 834.8,174.5 786.5,149.5 784.9,148.5 783.9,147.4 783.5,146.4" fill="#5129da" />
<polygon points="783.5,139.9 783.9,138.9 784.9,137.8 786.5,136.8 834.8,111.8 836.8,111.0 838.8,110.4 840.8,110.3 840.8,110.3 840.8,176.0 840.8,176.0 838.8,175.9 836.8,175.3 834.8,174.5 786.5,149.5 784.9,148.5 783.9,147.4 783.5,146.4" fill="#6e42ec" />
<polygon points="834.8,111.8 836.8,111.0 838.8,110.4 840.8,110.3 842.8,110.4 844.8,111.0 846.8,111.8 895.1,136.8 896.7,137.8 897.8,138.9 898.1,139.9 897.8,140.9 896.7,142.0 895.1,143.0 846.8,168.0 844.8,168.8 842.8,169.4 840.8,169.5 838.8,169.4 836.8,168.8 834.8,168.0 786.5,143.0 784.9,142.0 783.9,140.9 783.5,139.9 783.9,138.9 784.9,137.8 786.5,136.8" fill="#b9aef5" />
</g>
<g>
<polygon points="807.9,122.5 808.0,122.0 808.4,121.6 808.9,121.2 838.8,101.5 839.4,101.2 840.1,100.9 840.8,100.9 841.5,100.9 842.2,101.2 842.8,101.5 872.7,121.2 873.2,121.6 873.6,122.0 873.7,122.5 873.7,132.9 873.6,133.3 873.2,133.8 872.7,134.2 842.8,153.9 842.2,154.2 841.5,154.5 840.8,154.5 840.1,154.5 839.4,154.2 838.8,153.9 808.9,134.2 808.4,133.8 808.0,133.3 807.9,132.9" fill="#5129da" />
<polygon points="807.9,122.5 808.0,122.0 808.4,121.6 808.9,121.2 838.8,101.5 839.4,101.2 840.1,100.9 840.8,100.9 840.8,100.9 840.8,154.5 840.8,154.5 840.1,154.5 839.4,154.2 838.8,153.9 808.9,134.2 808.4,133.8 808.0,133.3 807.9,132.9" fill="#6a3eea" />
<polygon points="838.8,101.5 839.4,101.2 840.1,100.9 840.8,100.9 841.5,100.9 842.2,101.2 842.8,101.5 872.7,121.2 873.2,121.6 873.6,122.1 873.7,122.5 873.6,122.9 873.2,123.4 872.7,123.8 842.8,143.5 842.2,143.8 841.5,144.1 840.8,144.1 840.1,144.1 839.4,143.8 838.8,143.5 808.9,123.8 808.4,123.4 808.0,122.9 807.9,122.5 808.0,122.1 808.4,121.6 808.9,121.2" fill="#bdb3f7" />
</g>
<path d="M810.5 128 V62 Q810.5 58.4 813.5 56.6 L832.0 44.6 Q840.8 42.2 850.0 44.6 L869.0 56.6 Q872.0 58.4 872.0 62 V126 L840.8 144 Z" fill="url(#holo)"/>
<path d="M810.5 104 V62 Q810.5 58.4 813.5 56.6 L832.0 44.6 Q840.8 42.2 850.0 44.6 L869.0 56.6 Q872.0 58.4 872.0 62 V104" fill="none" stroke="url(#holos)" stroke-width="1"/>
<ellipse cx="840.8" cy="121" rx="27" ry="13" fill="#e4defd" opacity=".42" filter="url(#b4)"/>
<path d="M827.8 127.3 L820.8 122.8 L840.8 110.0 L860.8 122.8 L840.8 135.6 L833.8 131.1 L845.8 123.4 L839.8 119.6 L833.8 123.4" fill="none" stroke="#f6f3fe" stroke-width="2" stroke-linejoin="miter"/>
</g>
<g id="rocket">
<path d="M1057.1 169.3 L1065.0 180.3 H1061.3 V205.8 H1053.0 V180.3 H1049.3 Z" fill="url(#arr)"/>
<path d="M1065.2 260.8 L1073.0 270.7 H1069.7 V299.8 H1060.8 V270.7 H1057.4 Z" fill="url(#arr)"/>
<path d="M1122.5 258.2 L1130.3 268.6 H1127.0 V299.8 H1118.1 V268.6 H1114.7 Z" fill="url(#arr)"/>
<path d="M1116.8 184.4 L1146.8 203.5 M1127.2 201.4 L1152.7 218.3 L1152.7 243.1 M1128.5 217.0 L1146.8 232.6 M1066.0 200.1 L1038.7 218.3 L1038.7 243.1 M1063.4 218.3 L1045.2 232.6" fill="none" stroke="#b9abea" stroke-width=".9" opacity=".8"/>
<path d="M1164.5 189.7 L1164.5 249.0 M1027.7 203.5 L1027.7 265.7" stroke="#a090e0" stroke-width="1" opacity=".85"/>
<path d="M1067.8 235.2 L1067.8 243.1 M1076.4 222.2 L1076.4 231.3 M1056.4 223.5 L1056.4 233.9 M1114.2 222.2 L1114.2 231.3 M1123.3 233.9 L1123.3 243.1 M1136.3 222.2 L1136.3 235.2 M1075.6 252.2 L1075.6 263.9 M1115.5 250.9 L1115.5 261.3 M1141.0 186.3 L1141.0 196.2" stroke="#a898e0" stroke-width=".9" opacity=".55"/>
<circle cx="1146.8" cy="203.5" r="1.9" fill="#fff"/>
<circle cx="1152.7" cy="243.1" r="2.0" fill="#fff"/>
<circle cx="1146.8" cy="232.6" r="1.7" fill="#fff"/>
<circle cx="1038.7" cy="243.1" r="2.0" fill="#fff"/>
<circle cx="1045.2" cy="232.6" r="1.7" fill="#fff"/>
<circle cx="1027.7" cy="265.7" r="2.1" fill="#fff"/>
<circle cx="1051.2" cy="185.8" r="1.4" fill="#fff"/>
<circle cx="1107.7" cy="260.8" r="1.6" fill="#fff"/>
<circle cx="1096.0" cy="288.1" r="1.5" fill="#fff"/>
<circle cx="1164.5" cy="189.7" r="2.7" fill="#b9a6f4"/>
<circle cx="1164.5" cy="249.0" r="2.2" fill="#a48ef0"/>
<circle cx="1027.7" cy="203.5" r="2.2" fill="#a48ef0"/>
<circle cx="1141.0" cy="186.3" r="1.2" fill="#cfc4f4"/>
<circle cx="1075.6" cy="252.2" r="1.0" fill="#cfc4f4"/>
<circle cx="1115.5" cy="250.9" r="1.0" fill="#e8a0e0"/>
<path d="M1083.7 236.5 H1087.9 V269.6 L1083.7 274.8 Z" fill="url(#flm)"/>
<path d="M1104.0 236.5 H1108.2 V274.8 L1104.0 269.6 Z" fill="url(#flm)"/>
<rect x="1094.8" y="239.1" width="2.6" height="32.6" fill="url(#flm)"/>
<path d="M1096.1 261.3 V287.3" stroke="#cfc4fb" stroke-width=".8" opacity=".8"/>
<path d="M1076.4 183.1 C1068.6 193.6 1063.4 204.0 1065.5 227.9 L1066.8 228.5 C1070.4 220.9 1076.4 215.7 1084.2 214.4 Z" fill="#7a5cf0"/>
<path d="M1075.6 185.2 C1068.6 194.1 1064.2 204.5 1066.0 227.4" fill="none" stroke="#b5a6f6" stroke-width="1.6"/>
<path d="M1115.5 183.1 C1123.3 193.6 1128.5 204.0 1126.4 227.9 L1125.1 228.5 C1121.5 220.9 1115.5 215.7 1107.7 214.4 Z" fill="#6a49e8"/>
<path d="M1116.3 185.2 C1123.3 194.1 1127.7 204.5 1125.9 227.4" fill="none" stroke="#a795f4" stroke-width="1.6"/>
<clipPath id="rkL"><rect x="1072.5" y="110" width="23.4" height="130"/></clipPath>
<clipPath id="rkN"><path d="M1070 110H1125V135.7 Q1096 140.4 1070 135.7Z"/></clipPath>
<path d="M1096.0 118.5 C1084.2 129.7 1074.6 144.1 1074.6 163.6 C1074.6 183.1 1079.8 206.6 1086.1 217.5 L1105.9 217.5 C1112.1 206.6 1117.3 183.1 1117.3 163.6 C1117.3 144.1 1107.7 129.7 1096.0 118.5 Z" fill="#633ae2"/>
<path d="M1096.0 118.5 C1084.2 129.7 1074.6 144.1 1074.6 163.6 C1074.6 183.1 1079.8 206.6 1086.1 217.5 L1105.9 217.5 C1112.1 206.6 1117.3 183.1 1117.3 163.6 C1117.3 144.1 1107.7 129.7 1096.0 118.5 Z" fill="#7d60f1" clip-path="url(#rkL)"/>
<g clip-path="url(#rkN)"><path d="M1096.0 118.5 C1084.2 129.7 1074.6 144.1 1074.6 163.6 C1074.6 183.1 1079.8 206.6 1086.1 217.5 L1105.9 217.5 C1112.1 206.6 1117.3 183.1 1117.3 163.6 C1117.3 144.1 1107.7 129.7 1096.0 118.5 Z" fill="#a999f2"/><path d="M1096.0 118.5 C1084.2 129.7 1074.6 144.1 1074.6 163.6 C1074.6 183.1 1079.8 206.6 1086.1 217.5 L1105.9 217.5 C1112.1 206.6 1117.3 183.1 1117.3 163.6 C1117.3 144.1 1107.7 129.7 1096.0 118.5 Z" fill="#d2c9f9" clip-path="url(#rkL)"/></g>
<circle cx="1096.0" cy="162.3" r="12.2" fill="none" stroke="#ebe7fb" stroke-width="2.9"/>
<circle cx="1096.0" cy="162.3" r="7.9" fill="url(#win)"/>
<rect x="1093.5" y="197.5" width="5.2" height="26.0" rx="2.6" fill="#a28df6"/>
<rect x="1086.8" y="220.9" width="18.2" height="12.2" rx="2" fill="#8b6ef1"/>
</g>
<g id="agents">
<ellipse cx="905.3" cy="354.2" rx="63.5" ry="52" fill="none" stroke="#a596e2" stroke-width=".8" opacity=".3"/>
<ellipse cx="908.8" cy="354.7" rx="56" ry="45.5" fill="none" stroke="#a596e2" stroke-width=".9" opacity=".55"/>
<path d="M873.3 329.2V349.2 M941.6 327.4V340.1 M948.9 338.3V350.2" stroke="#a898e4" stroke-width=".8" opacity=".6"/>
<circle cx="878.8" cy="305.5" r="2.4" fill="#f0ecfc"/>
<circle cx="935.3" cy="315.5" r="2.4" fill="#f0ecfc"/>
<circle cx="965.0" cy="348.3" r="2.4" fill="#f0ecfc"/>
<circle cx="943.1" cy="401.5" r="2.4" fill="#f0ecfc"/>
<circle cx="880.6" cy="395.2" r="2.4" fill="#f0ecfc"/>
<circle cx="852.3" cy="359.8" r="2.4" fill="#f0ecfc"/>
<circle cx="941.6" cy="327.4" r="1.1" fill="#f0ecfc"/>
<polygon points="908.8,331.1 930.2,342.9 930.2,366.5 908.8,378.3 887.5,366.5 887.5,342.9" fill="url(#gal)" stroke="#b9abec" stroke-width=".8" stroke-opacity=".65"/>
<polygon points="908.8,331.1 930.2,342.9 930.2,366.5 908.8,378.3 887.5,366.5 887.5,342.9" fill="none" stroke="#b9abec" stroke-width=".6" opacity=".3" transform="translate(908.8 354.7) scale(1.09) translate(-908.8 -354.7)"/>
<path d="M910.8 354.7 L912.3 356.0 L912.7 358.3 L911.7 360.9 L909.1 363.1 L905.2 364.1 L900.7 363.3 L896.3 360.5 L893.3 355.7 L892.4 349.6 L894.3 343.1" fill="none" stroke="#b8a9f6" stroke-width="2" stroke-linecap="round" opacity=".36"/>
<path d="M909.4 356.5 L908.6 358.2 L906.5 359.3 L903.6 359.2 L900.6 357.6 L898.3 354.4 L897.7 350.0 L899.2 345.2 L903.0 341.0 L908.8 338.3 L915.9 338.0" fill="none" stroke="#b8a9f6" stroke-width="2" stroke-linecap="round" opacity=".36"/>
<path d="M907.2 355.8 L905.2 355.6 L903.5 354.0 L902.7 351.3 L903.4 348.1 L905.9 345.1 L910.1 343.2 L915.4 343.1 L920.8 345.2 L925.3 349.6 L927.8 356.0" fill="none" stroke="#b8a9f6" stroke-width="2" stroke-linecap="round" opacity=".36"/>
<path d="M907.2 353.6 L906.9 351.7 L907.9 349.7 L910.3 348.1 L913.7 347.8 L917.5 349.1 L920.8 352.3 L922.5 357.0 L922.1 362.6 L919.0 368.0 L913.4 372.2" fill="none" stroke="#b8a9f6" stroke-width="2" stroke-linecap="round" opacity=".36"/>
<path d="M909.4 352.9 L911.2 352.0 L913.6 352.3 L915.9 354.0 L917.3 357.0 L917.1 360.9 L914.9 364.8 L910.8 367.8 L905.1 369.1 L898.7 368.0 L892.7 364.3" fill="none" stroke="#b8a9f6" stroke-width="2" stroke-linecap="round" opacity=".36"/>
<circle cx="908.8" cy="354.7" r="2.2" fill="#fff" opacity=".95"/>
<circle cx="908.8" cy="354.7" r="5" fill="#e6dffc" opacity=".45"/>
<circle cx="908.8" cy="331.1" r="1.1" fill="#e6e0fb"/>
<circle cx="930.2" cy="342.9" r="1.1" fill="#e6e0fb"/>
<circle cx="930.2" cy="366.5" r="1.1" fill="#e6e0fb"/>
<circle cx="908.8" cy="378.3" r="1.1" fill="#e6e0fb"/>
<circle cx="887.5" cy="366.5" r="1.1" fill="#e6e0fb"/>
<circle cx="887.5" cy="342.9" r="1.1" fill="#e6e0fb"/>
<polygon points="908.5,299.5 919.1,305.7 919.1,318.1 908.5,324.3 898.0,318.1 898.0,305.7" fill="#5f3fd8" stroke="#5f3fd8" stroke-width="6" stroke-linejoin="round"/>
<polygon points="907.9,295.3 918.5,301.5 918.5,313.9 907.9,320.1 897.4,313.9 897.4,301.5" fill="url(#nodeg)" stroke="url(#nodeg)" stroke-width="6" stroke-linejoin="round"/>
<path d="M914.7 306.1L916.8 306.3L916.8 309.1L914.7 309.3L913.9 311.4L915.2 313.0L913.2 315.0L911.6 313.6L909.5 314.5L909.3 316.6L906.5 316.6L906.3 314.5L904.2 313.6L902.6 315.0L900.6 313.0L902.0 311.4L901.1 309.3L899.0 309.1L899.0 306.3L901.1 306.1L902.0 304.0L900.6 302.4L902.6 300.4L904.2 301.8L906.3 300.9L906.5 298.8L909.3 298.8L909.5 300.9L911.6 301.8L913.2 300.4L915.2 302.4L913.9 304.0Z M903.7 307.7 a4.2 4.2 0 1 0 8.4 0 a4.2 4.2 0 1 0 -8.4 0Z" fill="#fbfaff" fill-rule="evenodd" stroke="#fbfaff" stroke-width="1" stroke-linejoin="round"/>
<polygon points="851.1,319.5 861.7,325.7 861.7,338.2 851.1,344.4 840.5,338.2 840.5,325.7" fill="#5f3fd8" stroke="#5f3fd8" stroke-width="6" stroke-linejoin="round"/>
<polygon points="850.5,315.3 861.1,321.5 861.1,334.0 850.5,340.2 839.9,334.0 839.9,321.5" fill="url(#nodeg)" stroke="url(#nodeg)" stroke-width="6" stroke-linejoin="round"/>
<path d="M842.9 326.7 q-2.4 -5 1.4 -6 q3.4 -.4 2.6 4 q-.8 3.6 1 6.4 M850.7 322.3 a2.6 3.8 0 1 0 .1 0Z M854.3 324.1 q3 -3.4 4.8 -.4 q.8 3 -2.6 6.4" fill="none" stroke="#fbfaff" stroke-width="1.6" stroke-linecap="round"/>
<path d="M846.5 332.7 q3 3.6 7.4 .8" fill="none" stroke="#fbfaff" stroke-width="1.3" stroke-linecap="round"/>
<polygon points="966.3,319.5 976.8,325.7 976.8,338.2 966.3,344.4 955.7,338.2 955.7,325.7" fill="#5f3fd8" stroke="#5f3fd8" stroke-width="6" stroke-linejoin="round"/>
<polygon points="965.7,315.3 976.2,321.5 976.2,334.0 965.7,340.2 955.1,334.0 955.1,321.5" fill="url(#nodeg)" stroke="url(#nodeg)" stroke-width="6" stroke-linejoin="round"/>
<circle cx="962.3" cy="330.7" r="3.6" fill="none" stroke="#fbfaff" stroke-width="2"/>
<circle cx="969.7" cy="324.3" r="3.8" fill="none" stroke="#fbfaff" stroke-width="2"/>
<path d="M962.3 331.1h3.2" stroke="#fbfaff" stroke-width="1.6"/>
<polygon points="855.7,372.0 866.2,378.2 866.2,390.6 855.7,396.9 845.1,390.6 845.1,378.2" fill="#5f3fd8" stroke="#5f3fd8" stroke-width="6" stroke-linejoin="round"/>
<polygon points="855.1,367.8 865.6,374.0 865.6,386.4 855.1,392.7 844.5,386.4 844.5,374.0" fill="url(#nodeg)" stroke="url(#nodeg)" stroke-width="6" stroke-linejoin="round"/>
<path d="M861.9 378.7L864.0 378.8L864.0 381.6L861.9 381.8L861.0 383.9L862.3 385.5L860.4 387.5L858.8 386.2L856.6 387.0L856.5 389.1L853.7 389.1L853.5 387.0L851.4 386.2L849.8 387.5L847.8 385.5L849.1 383.9L848.2 381.8L846.2 381.6L846.2 378.8L848.2 378.7L849.1 376.5L847.8 374.9L849.8 372.9L851.4 374.3L853.5 373.4L853.7 371.3L856.5 371.3L856.6 373.4L858.8 374.3L860.4 372.9L862.3 374.9L861.0 376.5Z M850.9 380.2 a4.2 4.2 0 1 0 8.4 0 a4.2 4.2 0 1 0 -8.4 0Z" fill="#fbfaff" fill-rule="evenodd" stroke="#fbfaff" stroke-width="1" stroke-linejoin="round"/>
<polygon points="965.6,370.2 976.1,376.4 976.1,388.8 965.6,395.0 955.0,388.8 955.0,376.4" fill="#5f3fd8" stroke="#5f3fd8" stroke-width="6" stroke-linejoin="round"/>
<polygon points="965.0,366.0 975.5,372.2 975.5,384.6 965.0,390.8 954.4,384.6 954.4,372.2" fill="url(#nodeg)" stroke="url(#nodeg)" stroke-width="6" stroke-linejoin="round"/>
<path d="M971.8 376.8L973.8 377.0L973.8 379.8L971.8 380.0L970.9 382.1L972.2 383.7L970.2 385.7L968.7 384.3L966.5 385.2L966.4 387.3L963.5 387.3L963.4 385.2L961.2 384.3L959.7 385.7L957.7 383.7L959.0 382.1L958.1 380.0L956.1 379.8L956.1 377.0L958.1 376.8L959.0 374.7L957.7 373.1L959.7 371.1L961.2 372.5L963.4 371.6L963.5 369.5L966.4 369.5L966.5 371.6L968.7 372.5L970.2 371.1L972.2 373.1L970.9 374.7Z M960.8 378.4 a4.2 4.2 0 1 0 8.4 0 a4.2 4.2 0 1 0 -8.4 0Z" fill="#fbfaff" fill-rule="evenodd" stroke="#fbfaff" stroke-width="1" stroke-linejoin="round"/>
<polygon points="909.8,391.1 920.4,397.3 920.4,409.8 909.8,416.0 899.2,409.8 899.2,397.3" fill="#5f3fd8" stroke="#5f3fd8" stroke-width="6" stroke-linejoin="round"/>
<polygon points="909.2,386.9 919.8,393.1 919.8,405.6 909.2,411.8 898.6,405.6 898.6,393.1" fill="url(#nodeg)" stroke="url(#nodeg)" stroke-width="6" stroke-linejoin="round"/>
<circle cx="909.2" cy="399.4" r="6.8" fill="none" stroke="#fbfaff" stroke-width="1.5"/>
<path d="M909.2 392.6v13.6 M902.4 399.4h13.6 M906.8 392.6 q-4 6.8 0 13.6 M911.6 392.6 q4 6.8 0 13.6" fill="none" stroke="#fbfaff" stroke-width="1.1" opacity=".9"/>
</g>
<g id="hand">
<rect x="1080.3" y="433.8" width="71.9" height="52.0" fill="#6a58c0" opacity=".10" filter="url(#b2)"/>
<path d="M1136.7 436.0V444.9" stroke="#cfc4f4" stroke-width=".8" opacity=".6"/>
<circle cx="1115.7" cy="417.7" r="2.0" fill="#8e78e0"/>
<circle cx="1067.5" cy="451.5" r="2.4" fill="#9a84ea"/>
<circle cx="1166.2" cy="452.0" r="2.5" fill="#9a84ea"/>
<circle cx="1080.3" cy="460.8" r="1.7" fill="#f4f1fe"/>
<circle cx="1090.3" cy="431.6" r="1.1" fill="#9a8ad8"/>
<circle cx="1096.5" cy="439.8" r="0.9" fill="#cfc4f4"/>
<circle cx="1115.7" cy="469.2" r="29.8" fill="url(#glb)"/>
<g transform="translate(1015 415) scale(0.22136)">
<path d="M447 290 C425 296 392 285 375 234 C410 222 442 240 447 290Z" fill="#f6f4fe"/>
<path d="M447 290 C425 296 392 285 375 234 C400 250 430 270 447 290Z" fill="#e0dcf6"/>
<path d="M455 290 C448 245 475 190 547 172 C560 225 520 290 455 290Z" fill="#f6f4fe"/>
<path d="M455 290 C490 250 520 210 547 172 C560 225 520 290 455 290Z" fill="#e2def7"/>
<path d="M451 270 V322" stroke="#f6f4fe" stroke-width="7" stroke-linecap="round"/>
<polygon points="40,545 135,478 270,650 185,718" fill="url(#cuff)"/>
<path d="M150 492 C200 450 260 420 330 420 C400 425 450 455 530 462 C562 466 560 502 535 511 L520 545 C580 520 620 450 660 410 C680 385 728 395 711 432 C692 492 662 542 630 572 C580 612 520 642 480 640 C400 630 330 612 272 652 Z" fill="url(#hnd)" stroke="#a795f5" stroke-width="4" stroke-linejoin="round"/>
<path d="M540 512 C560 470 598 412 624 400 C646 396 648 420 636 437 C616 472 590 505 556 528 Z" fill="#6341dc" stroke="#a795f5" stroke-width="3" stroke-linejoin="round"/>
<path d="M500 560 C560 545 610 480 640 430 L668 408 C700 392 716 410 706 436 C690 492 660 542 628 570 C580 610 520 640 480 638 Z" fill="#7655ec"/>
<path d="M398 530 L528 527" stroke="#a795f5" stroke-width="29" stroke-linecap="round"/>
<path d="M398 530 L536 526" stroke="#2c1e69" stroke-width="20" stroke-linecap="round"/>
</g>
</g>
<g id="book">
<g transform="translate(595 540) scale(0.20833)">
<path d="M60 305V390 M770 135V190 M800 315V390" stroke="#a898e4" stroke-width="4" opacity=".55"/>
<circle cx="60" cy="305" r="7" fill="#e6e0fb"/><circle cx="770" cy="188" r="5" fill="#e6e0fb"/><circle cx="800" cy="315" r="6" fill="#e6e0fb"/><circle cx="757" cy="287" r="5" fill="#8e7ad8"/>
<path d="M197 65 C260 110 360 190 412 250 L412 268 L197 160Z" fill="#a797f4"/>
<path d="M628 62 C565 110 465 190 412 250 L412 268 L628 160Z" fill="#9f8cf3"/>
<path d="M153 85 C230 125 350 200 412 262 L412 280 L153 160Z" fill="#cdc4fa"/>
<path d="M672 85 C595 125 475 200 412 262 L412 280 L672 160Z" fill="#c2b6f8"/>
<path d="M655 100 C585 140 480 205 425 258" fill="none" stroke="#eeeafd" stroke-width="9" stroke-linecap="round" opacity=".85"/>
<polygon points="108,112 412,265 412,715 108,560" fill="url(#bkL)"/>
<polygon points="412,265 715,112 715,560 412,715" fill="url(#bkR)"/>
<path d="M213 272 L170 292 L215 345 M272 278 L243 378 M303 312 L345 372 L303 390" fill="none" stroke="#ebe7fd" stroke-linecap="round" stroke-linejoin="round" stroke-width="15"/>
<path d="M175 388 L348 478 M175 433 L352 523 M180 480 L352 568" fill="none" stroke="#ebe7fd" stroke-linecap="round" stroke-linejoin="round" stroke-width="16" opacity=".9"/>
<path d="M513 322 L472 378 L513 392 M578 278 L548 392 M597 300 L648 288 L612 350" fill="none" stroke="#ebe7fd" stroke-linecap="round" stroke-linejoin="round" stroke-width="15"/>
<circle cx="280" cy="284" r="14" fill="#f0ecfd"/>
<path d="M285 295 C330 340 360 420 412 455 C450 485 500 500 540 490" fill="none" stroke="#cfc4f8" stroke-width="21" stroke-linecap="round" opacity=".9"/>
<path d="M500 470 C530 440 580 420 610 425 C640 432 600 480 560 500 C520 515 500 500 500 470Z" fill="none" stroke="#d4cafa" stroke-width="19" opacity=".95"/>
<path d="M600 470 C640 450 660 420 640 410 M560 520 C610 520 650 480 650 440" fill="none" stroke="#cfc4f8" stroke-width="18" stroke-linecap="round" opacity=".9"/>
<path d="M470 545 C485 550 490 535 485 520" fill="none" stroke="#d8d0fa" stroke-width="14" stroke-linecap="round"/>
</g>
</g>

<g id="labels">
<text class="lbl" x="463.5" y="235.7" textLength="158.8" lengthAdjust="spacingAndGlyphs">Collaborations with</text>
<text class="lbl" x="473.5" y="256.5" textLength="141" lengthAdjust="spacingAndGlyphs">Major Companies</text>
<text class="lbl" x="373.8" y="441.5" textLength="161.5" lengthAdjust="spacingAndGlyphs">Security Challenges</text>
<text class="lbl" x="399.4" y="462.3" textLength="112.7" lengthAdjust="spacingAndGlyphs">and Measures</text>
<text class="lbl" x="163.1" y="622" textLength="191.5" lengthAdjust="spacingAndGlyphs">Growth and Community</text>
<text class="lbl" x="210.6" y="642.8" textLength="99.5" lengthAdjust="spacingAndGlyphs">Involvement</text>
<text class="lbl" x="606.8" y="719.6" textLength="139.1" lengthAdjust="spacingAndGlyphs">Open Source and</text>
<text class="lbl" x="615.4" y="740.4" textLength="125.6" lengthAdjust="spacingAndGlyphs">Data Owvership</text>
<text class="lbl" x="819.6" y="441.5" textLength="183.4" lengthAdjust="spacingAndGlyphs">AI Agents and Perense</text>
<text class="lbl" x="855.7" y="462.5" textLength="111" lengthAdjust="spacingAndGlyphs">Personization</text>
<text class="lbl" x="1003.4" y="330.9" textLength="191.2" lengthAdjust="spacingAndGlyphs">FutureClaw’s and Skills</text>
<text class="lbl" x="1013.2" y="351.7" textLength="173.2" lengthAdjust="spacingAndGlyphs">skils for AI Engineers</text>
<text class="lbl" x="1041" y="622.5" textLength="134.5" lengthAdjust="spacingAndGlyphs">The Role of Open</text>
<text class="lbl" x="1036.8" y="642.6" textLength="137" lengthAdjust="spacingAndGlyphs">Glove Ovandation</text>
<text class="ttl" x="622.1" y="483.5" textLength="129.3" lengthAdjust="spacingAndGlyphs">OPEN CLAW</text>
</g>
</svg>
</body></html>
